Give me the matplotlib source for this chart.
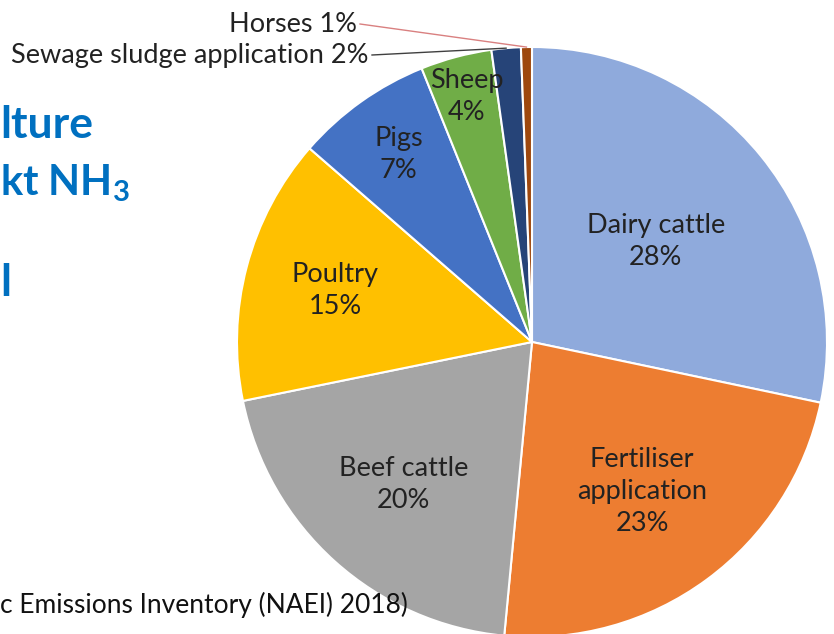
import numpy as np
import matplotlib
matplotlib.use("Agg")
import matplotlib.pyplot as plt

plt.rcParams['font.family'] = ['Lato', 'DejaVu Sans']
plt.rcParams['mathtext.fontset'] = 'custom'
plt.rcParams['mathtext.rm'] = 'Lato'
plt.rcParams['mathtext.bf'] = 'Lato:bold'

# NH3 emissions from agriculture by source (NAEI 2018)
sources = ["Dairy cattle", "Fertiliser\napplication", "Beef cattle", "Poultry",
           "Pigs", "Sheep", "Sewage sludge application", "Horses"]
shares = [28.3, 23.2, 20.3, 14.6, 7.5, 3.9, 1.6, 0.6]
shown_pct = ["28%", "23%", "20%", "15%", "7%", "4%", "2%", "1%"]
colors = ["#8FAADC", "#ED7D31", "#A5A5A5", "#FFC000",
          "#4472C4", "#70AD47", "#264478", "#9E480E"]

W, H = 834, 634
fig = plt.figure(figsize=(W / 100, H / 100), dpi=100)
ax = fig.add_axes([0, 0, 1, 1])

cx, cy, R = 532, H - 342, 295
wedges, _ = ax.pie(shares, colors=colors, startangle=90, counterclock=False,
                   center=(cx, cy), radius=R,
                   wedgeprops=dict(edgecolor="white", linewidth=1.5))

# labels inside the bigger slices
label_r = [0.54, 0.63, 0.65, 0.69, 0.78, 0.86]
for i, w in enumerate(wedges[:6]):
    a = np.deg2rad((w.theta1 + w.theta2) / 2)
    x = cx + label_r[i] * R * np.cos(a)
    y = cy + label_r[i] * R * np.sin(a)
    ax.text(x, y, sources[i] + "\n" + shown_pct[i], ha="center", va="center",
            fontsize=19.5, color="#222222", linespacing=1.35)

# small slices: label outside with leader line
outside = {6: (369, H - 55, "#404040"), 7: (357, H - 24, "#D98080")}
for i, (tx, ty, lc) in outside.items():
    w = wedges[i]
    a = np.deg2rad((w.theta1 + w.theta2) / 2)
    ex = cx + R * np.cos(a)
    ey = cy + R * np.sin(a)
    ax.plot([tx + 3, ex], [ty, ey], color=lc, lw=1)
    ax.text(tx, ty, sources[i] + " " + shown_pct[i], ha="right", va="center",
            fontsize=19.5, color="#222222")

# pieces of the slide text that show at the left edge
blue = "#0070C0"
ax.text(0, H - 125, "lture", ha="left", va="center", fontsize=32,
        fontweight="bold", color=blue)
ax.text(0, H - 183, r"kt NH$_\mathbf{3}$", ha="left", va="center", fontsize=30,
        fontweight="bold", color=blue)
ax.text(0, H - 283, "l", ha="left", va="center", fontsize=32,
        fontweight="bold", color=blue)
ax.text(0, H - 605, "c Emissions Inventory (NAEI) 2018)", ha="left",
        va="center", fontsize=19, color="#111111")

ax.set_xlim(0, W)
ax.set_ylim(0, H)
ax.set_aspect("equal")
ax.axis("off")

fig.savefig("out.png", dpi=100)
